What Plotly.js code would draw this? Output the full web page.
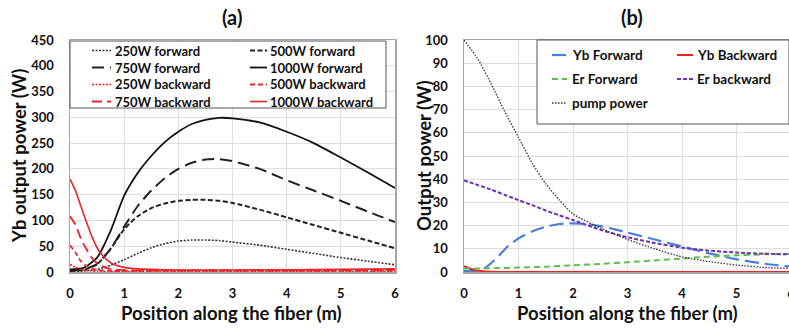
<!DOCTYPE html>
<html>
<head>
<meta charset="utf-8">
<script src="https://cdn.plot.ly/plotly-3.0.1.min.js"></script>
<style>
html,body{margin:0;padding:0;overflow:hidden;background:#fff;}
#chart{width:800px;height:329px;}
</style>
</head>
<body>
<div id="chart"></div>
<script>
// ---------- Panel (a): Yb output power (W) vs position (m) ----------
const xForward = [0,0.25,0.5,0.75,1,1.25,1.5,1.75,2,2.25,2.5,2.75,3,3.5,4,4.5,5,5.5,6];
const fwd250  = [1,2,5,13,24,36,47,55,60,62,62,61,58,52,44,36,28,21,14];
const fwd500  = [2,4,15,45,83,108,124,133,138,140,140,138,134,121,106,91,76,61,46];
const fwd750  = [3,5,16,45,88,128,158,182,200,212,218,219,215,200,178,158,138,117,97];
const fwd1000 = [5,8,28,80,148,192,225,252,272,287,295,299,298,290,272,250,222,193,163];

const xBackward = [0,0.1,0.2,0.3,0.4,0.5,0.6,0.7,0.8,1,1.25,1.5,2,3,4,5,6];
const bwd250  = [15,9,5,3,2,1.5,1.2,1,1,1,1,1,1,1,1,1,1];
const bwd500  = [52,38,21,12,7,4,3,2.5,2,2,2,2,2,2,2,2,2];
const bwd750  = [108,92,65,45,28,17,11,7,5,3.5,3,3,3,3,3,3.5,4];
const bwd1000 = [180,158,128,98,70,47,32,22,15,9,6,5,4,4,4.5,5,6];

// ---------- Panel (b): output power (W) vs position (m) ----------
const xPump = [0,0.25,0.5,0.75,1,1.25,1.5,1.75,2,2.5,3,3.5,4,4.5,5,5.5,6];
const pumpPower = [100,92,81,69,58,47,38,31,25,19,14,10,6.5,4.5,3,2,1.5];
const erBackward = [39.5,37.5,35.5,33.2,31,28.8,26.5,24.4,22.4,18.2,15,12.5,10.5,9.2,8.4,7.9,7.6];

const xYbF = [0,0.25,0.4,0.6,0.8,1,1.25,1.5,1.75,2,2.25,2.5,2.75,3,3.5,4,4.5,5,5.5,6];
const ybForward = [0.5,0.5,2,6,11,14.5,17.5,19.5,20.7,21,20.7,19.8,18.5,17,14,11,8,5.5,3.6,2.3];

const xErF = [0,0.3,0.5,1,1.5,2,2.5,3,3.5,4,4.5,5,5.5,6];
const erForward = [1.5,1.5,1.6,1.9,2.3,2.9,3.5,4.2,5,5.8,6.6,7.2,7.6,7.8];

const xYbB = [0,0.1,0.2,0.3,0.5,1,2,3,4,5,6];
const ybBackward = [2.5,1.5,0.8,0.4,0.1,0,0,0,0,0,0];

const W = 800, H = 329;
const FONT = 'Lato, "Open Sans", sans-serif';
const RED = '#e8262b';
const px = v => v / W;
const py = v => 1 - v / H;

function tr(x, y, name, color, dash, width, xa, ya) {
  return {x: x, y: y, name: name, type: 'scatter', mode: 'lines',
    line: {color: color, dash: dash, width: width, shape: 'spline', smoothing: 0.6},
    xaxis: xa, yaxis: ya, hoverinfo: 'skip', showlegend: false};
}

const tracesA = [
  tr(xForward, fwd250, '250W forward', '#333', '2px,1.5px', 1.6, 'x', 'y'),
  tr(xForward, fwd500, '500W forward', '#222', '5px,2.5px', 2, 'x', 'y'),
  tr(xForward, fwd750, '750W forward', '#222', '12px,6px', 2, 'x', 'y'),
  tr(xForward, fwd1000, '1000W forward', '#111', 'solid', 1.8, 'x', 'y'),
  tr(xBackward, bwd250, '250W backward', RED, '2px,1.5px', 1.6, 'x', 'y'),
  tr(xBackward, bwd500, '500W backward', RED, '5px,3px', 1.8, 'x', 'y'),
  tr(xBackward, bwd750, '750W backward', RED, '10px,5px', 1.8, 'x', 'y'),
  tr(xBackward, bwd1000, '1000W backward', RED, 'solid', 1.6, 'x', 'y')
];
const tracesB = [
  tr(xYbF, ybForward, 'Yb Forward', '#4a7fd8', '14px,6px', 2.2, 'x2', 'y2'),
  tr(xYbB, ybBackward, 'Yb Backward', '#ee2222', 'solid', 2, 'x2', 'y2'),
  tr(xErF, erForward, 'Er Forward', '#5cbf4a', '6px,4px', 2, 'x2', 'y2'),
  tr(xPump, erBackward, 'Er backward', '#7030b0', '4px,2px', 2, 'x2', 'y2'),
  tr(xPump, pumpPower, 'pump power', '#333', '1.5px,1.5px', 1.3, 'x2', 'y2')
];
const data = tracesA.concat(tracesB);

// Two-column legend boxes built from the traces' own names and line styles
const shapes = [], annotations = [];
function buildLegend(traces, box, cols, rowTop, rowStep, fontSize) {
  shapes.push({type: 'rect', xref: 'paper', yref: 'paper', layer: 'above',
    x0: px(box[0]), x1: px(box[1]), y0: py(box[2]), y1: py(box[3]),
    fillcolor: '#fff', line: {color: '#555', width: 1}});
  traces.forEach(function (t, k) {
    const c = cols[k % 2], yy = rowTop + Math.floor(k / 2) * rowStep;
    shapes.push({type: 'line', xref: 'paper', yref: 'paper', layer: 'above',
      x0: px(c[0]), x1: px(c[1]), y0: py(yy), y1: py(yy),
      line: {color: t.line.color, dash: t.line.dash, width: t.line.width}});
    annotations.push({text: t.name, xref: 'paper', yref: 'paper', x: px(c[2]), y: py(yy),
      xanchor: 'left', yanchor: 'middle', showarrow: false,
      font: {family: FONT, size: fontSize, color: '#111', weight: 'bold'}});
  });
}
buildLegend(tracesA, [70, 386, 41, 108], [[92, 111, 113], [250, 267, 268]], 50.5, 17, 13);
buildLegend(tracesB, [537, 789, 40, 124], [[552, 567, 570], [677, 693, 695]], 55, 24, 13.5);

const tickFont = {family: FONT, size: 13, color: '#111', weight: 'bold'};
const titleFont = {family: FONT, size: 18.5, color: '#111', weight: 'bold'};
const yDom = [57 / H, 289 / H];

function xax(dom, anchor) {
  return {domain: dom, range: [0, 6], dtick: 1, tick0: 0, showgrid: true, gridcolor: '#dedede',
    zeroline: false, showline: true, mirror: true, linecolor: '#a6a6a6', linewidth: 1.5,
    ticks: '', tickfont: tickFont, ticklabelstandoff: 9, automargin: false, anchor: anchor};
}
function yax(range, dtick, anchor) {
  return {domain: yDom, range: range, dtick: dtick, tick0: 0, showgrid: true, gridcolor: '#dedede',
    zeroline: false, showline: true, mirror: true, linecolor: '#a6a6a6', linewidth: 1.5,
    ticks: '', tickfont: tickFont, ticklabelstandoff: 12, automargin: false, anchor: anchor};
}

function note(text, x, y, font, angle) {
  return {text: text, x: px(x), y: py(y), xref: 'paper', yref: 'paper', xanchor: 'center',
    yanchor: 'middle', showarrow: false, textangle: angle || 0, font: font};
}
const headFont = {family: FONT, size: 20, color: '#111', weight: 'bold'};
annotations.push(
  note('(a)', 232, 17, headFont),
  note('(b)', 632, 17, headFont),
  note('Yb output power (W)', 19, 156, titleFont, -90),
  note('Output power (W)', 424, 156, titleFont, -90),
  note('Position along the fiber (m)', 232, 313, titleFont),
  note('Position along the fiber (m)', 627, 313, titleFont)
);

const layout = {
  width: W, height: H,
  margin: {l: 0, r: 0, t: 0, b: 0},
  paper_bgcolor: '#fff', plot_bgcolor: '#fff',
  showlegend: false,
  xaxis: xax([70 / W, 395 / W], 'y'),
  yaxis: yax([0, 450], 50, 'x'),
  xaxis2: xax([464 / W, 791 / W], 'y2'),
  yaxis2: yax([0, 100], 10, 'x2'),
  shapes: shapes,
  annotations: annotations
};

Plotly.newPlot('chart', data, layout, {staticPlot: true, displayModeBar: false});
</script>
</body>
</html>
